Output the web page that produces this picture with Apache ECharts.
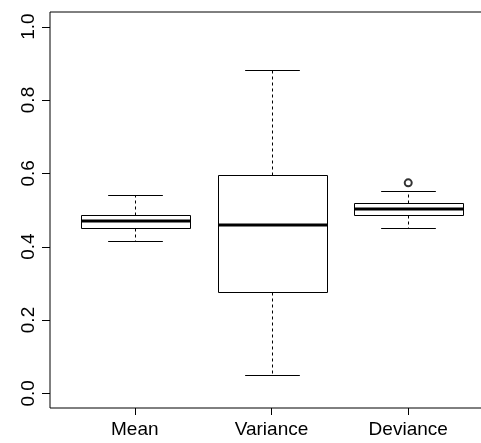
<!DOCTYPE html>
<html>
<head>
<meta charset="utf-8">
<style>
  html, body { margin: 0; padding: 0; background: #fff; }
  #chart { width: 481px; height: 443px; }
</style>
<script src="https://cdn.jsdelivr.net/npm/echarts@6/dist/echarts.min.js"></script>
</head>
<body>
<div id="chart"></div>
<script>
'use strict';
// 数据
var categories = ['Mean', 'Variance', 'Deviance'];
var lowerWhisker = [0.415, 0.050, 0.450];
var q1 = [0.450, 0.276, 0.487];
var median = [0.471, 0.459, 0.503];
var q3 = [0.486, 0.596, 0.518];
var upperWhisker = [0.540, 0.882, 0.552];
var outliers = [[3, 0.574]];
var yTicks = [0, 0.2, 0.4, 0.6, 0.8, 1.0];
var xTicks = [1, 2, 3];

var xMin = 0.38, xMax = 3.62;

var boxData = categories.map(function (c, i) {
    return [i + 1, lowerWhisker[i], q1[i], median[i], q3[i], upperWhisker[i]];
});

var font = '"Liberation Sans", Arial, Helvetica, sans-serif';

function crisp(v) { return Math.round(v) + 0.5; }

function renderBox(params, api) {
    var x = api.value(0);
    var p = function (y) { return api.coord([x, y]); };
    var cx = crisp(p(0)[0]);
    var boxW = api.size([0.8, 0])[0];
    var capW = api.size([0.4, 0])[0];
    var yLo = crisp(p(api.value(1))[1]);
    var yQ1 = crisp(p(api.value(2))[1]);
    var yMed = Math.round(p(api.value(3))[1]);
    var yQ3 = crisp(p(api.value(4))[1]);
    var yHi = crisp(p(api.value(5))[1]);
    var left = crisp(cx - boxW / 2);
    var right = crisp(cx + boxW / 2);
    var solid = { stroke: '#000', lineWidth: 1, fill: null };
    var dashed = { stroke: '#000', lineWidth: 1, lineDash: [3, 3], fill: null };
    return {
        type: 'group',
        children: [
            { type: 'line', shape: { x1: cx, y1: yQ3, x2: cx, y2: yHi }, style: dashed },
            { type: 'line', shape: { x1: cx, y1: yQ1, x2: cx, y2: yLo }, style: dashed },
            { type: 'line', shape: { x1: cx - capW / 2, y1: yHi, x2: cx + capW / 2, y2: yHi }, style: solid },
            { type: 'line', shape: { x1: cx - capW / 2, y1: yLo, x2: cx + capW / 2, y2: yLo }, style: solid },
            { type: 'rect', shape: { x: left, y: yQ3, width: right - left, height: yQ1 - yQ3 },
              style: { stroke: '#000', lineWidth: 1, fill: '#fff' } },
            { type: 'line', shape: { x1: left, y1: yMed, x2: right, y2: yMed },
              style: { stroke: '#000', lineWidth: 3 } }
        ]
    };
}

// y轴刻度线 (用 custom 画)
function renderYTick(params, api) {
    var pt = api.coord([api.value(0), api.value(1)]);
    var x0 = Math.round(pt[0]);
    var y = crisp(pt[1]);
    return {
        type: 'line',
        shape: { x1: x0 - 8, y1: y, x2: x0, y2: y },
        style: { stroke: '#000', lineWidth: 1 }
    };
}

var chart = echarts.init(document.getElementById('chart'));
chart.setOption({
    animation: false,
    backgroundColor: '#fff',
    grid: {
        left: 50, top: 12, right: -12, bottom: 35,
        show: true, borderColor: '#000', borderWidth: 1,
        containLabel: false, outerBoundsMode: 'none'
    },
    xAxis: {
        type: 'value', min: xMin, max: xMax,
        axisLine: { show: false, onZero: false },
        splitLine: { show: false },
        axisTick: { show: true, length: 7, lineStyle: { color: '#000', width: 1 }, customValues: xTicks },
        axisLabel: {
            customValues: xTicks, margin: 12,
            color: '#000', fontSize: 19, fontFamily: font,
            formatter: function (v) { return categories[Math.round(v) - 1]; }
        }
    },
    yAxis: {
        type: 'value', min: -0.04, max: 1.04,
        axisLine: { show: false, onZero: false },
        splitLine: { show: false },
        axisTick: { show: false },
        axisLabel: {
            customValues: yTicks, rotate: 90, margin: 12,
            color: '#000', fontSize: 19, fontFamily: font,
            formatter: function (v) { return v.toFixed(1); }
        }
    },
    series: [
        {
            type: 'custom',
            renderItem: renderBox,
            data: boxData,
            encode: { x: 0, y: [1, 2, 3, 4, 5] },
            silent: true
        },
        {
            type: 'custom',
            renderItem: renderYTick,
            data: yTicks.map(function (v) { return [xMin, v]; }),
            encode: { x: 0, y: 1 },
            clip: false,
            silent: true
        },
        {
            type: 'scatter',
            data: outliers,
            symbol: 'emptyCircle',
            symbolSize: 7,
            itemStyle: { color: '#000', borderColor: '#000', borderWidth: 1 },
            silent: true
        }
    ]
});
</script>
</body>
</html>
